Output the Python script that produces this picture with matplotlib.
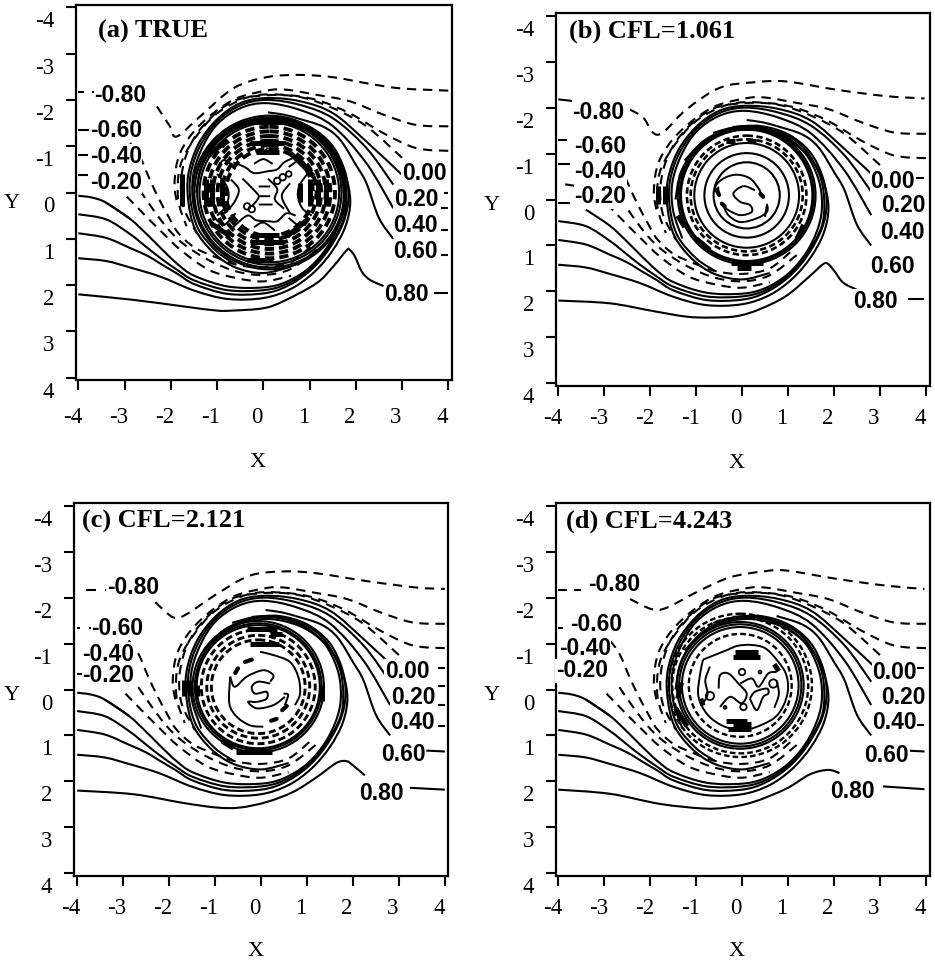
import matplotlib
matplotlib.use("Agg")
import matplotlib.pyplot as plt
from matplotlib.patches import Circle, PathPatch
from matplotlib.path import Path
from matplotlib.transforms import ScaledTranslation

TICKS = [-4, -3, -2, -1, 0, 1, 2, 3, 4]
TICK_LABELS = ["-4", "-3", "-2", "-1", "0", "1", "2", "3", "4"]
TITLES = ["(a) TRUE", "(b) CFL=1.061", "(c) CFL=2.121", "(d) CFL=4.243"]
LEVELS = ["-0.80", "-0.60", "-0.40", "-0.20", "0.00", "0.20", "0.40", "0.60", "0.80"]

# streamlines that look the same in all four panels
S00 = [(-3.4, .22), (-2.88, .57), (-2.5, .92), (-2.22, 1.2), (-1.85, 1.55), (-1.49, 1.8), (-.77, 2.03), (0, 2.05),
       (.5, 1.93), (1, 1.62), (1.4, 1.15), (1.66, .6), (1.74, .1), (1.66, -.45), (1.38, -1.0), (.95, -1.33), (.45, -1.5),
       (0, -1.53), (-.5, -1.42), (-1, -1.1), (-1.33, -.6), (-1.45, 0)]
S00_EXT = [(-4, .07), (-3.7, .11), (-3.4, .22), (-2.88, .57)]
S02 = [(-4, .47), (-3.4, .58), (-2.88, .9), (-2.5, 1.2), (-2.22, 1.42), (-1.85, 1.68), (-1.49, 1.9), (-.77, 2.11),
       (0, 2.11), (.5, 1.98), (1, 1.66), (1.4, 1.2), (1.72, .62), (1.79, .1), (1.71, -.47), (1.42, -1.03), (1, -1.38),
       (.4, -1.56), (-.2, -1.54), (-.8, -1.3), (-1.25, -.85)]
S04 = [(-4, .88), (-3.4, .98), (-2.88, 1.2), (-2.5, 1.37), (-2.22, 1.54), (-1.85, 1.76), (-1.49, 1.98), (-.77, 2.19),
       (0, 2.18), (.5, 2.03), (1, 1.7), (1.4, 1.25), (1.73, .65), (1.84, .1), (1.76, -.47), (1.48, -1.03), (1, -1.42),
       (.4, -1.6), (-.2, -1.58)]
S06 = [(-4, 1.42), (-3.4, 1.48), (-2.88, 1.62), (-2.22, 1.82), (-1.49, 2.12), (-.77, 2.3), (0, 2.28), (.6, 2.08),
       (1.1, 1.72), (1.5, 1.25), (1.78, .72), (1.88, .17), (1.76, -.41), (1.47, -.92), (.96, -1.36), (.38, -1.56),
       (-.12, -1.58), (-.63, -1.45)]
ARM00 = [(3.0, -.38), (2.23, -1.1), (1.51, -1.71), (.8, -1.97), (.07, -2.04), (-.5, -1.93), (-1, -1.58), (-1.4, -1.05),
         (-1.62, -.4), (-1.62, .2), (-1.47, .8), (-1.08, 1.3), (-.6, 1.62), (0, 1.74), (.6, 1.6)]
ARM20 = [(2.81, -.17), (2.23, -.96), (1.51, -1.6), (.8, -1.89), (.07, -2.0), (-.5, -1.88), (-1, -1.53), (-1.37, -1.0),
         (-1.57, -.4), (-1.57, .2), (-1.4, .8), (-1, 1.28), (-.6, 1.55)]
ARM40 = [(2.81, .34), (2.23, -.63), (1.51, -1.43), (.8, -1.78), (.07, -1.93), (-.5, -1.82), (-1, -1.47), (-1.33, -.95),
         (-1.52, -.35), (-1.5, .25), (-1.3, .85)]
ARM60 = [(2.81, 1.0), (2.5, .55), (2.23, -.2), (2, -.6), (1.66, -1.14), (1.3, -1.42), (.75, -1.6)]
ARM60_EXT = [(.75, -1.6), (.45, -1.68), (.1, -1.73)]
DASH40_TOP = [(4, -.9), (3.3, -.96), (2.6, -1.28), (1.87, -1.71), (1.15, -2.0), (.43, -2.11), (-.29, -2.07),
              (-1, -1.71), (-1.5, -1.14), (-1.8, -.56), (-1.84, .16), (-1.66, .73)]
DASH60_TOP = [(4, -1.43), (3.3, -1.46), (2.6, -1.68), (1.87, -1.97), (1.15, -2.11), (.5, -2.22), (.07, -2.2),
              (-.65, -2.0), (-1.37, -1.46), (-1.8, -.85), (-1.92, -.2), (-1.85, .3)]
DASH20_TOP = [(3.0, -.75), (2.23, -1.43), (1.51, -1.82), (.8, -2.06), (.07, -2.1), (-.65, -1.97), (-1.22, -1.53),
              (-1.59, -1), (-1.77, -.35), (-1.73, .3), (-1.44, .88)]
DASH60_LEFT = [(-2.88, -1.07), (-2.67, -.78), (-2.45, -.27), (-2.25, .15), (-2.05, .52), (-1.85, .86), (-1.5, 1.18),
               (-1.07, 1.38), (-.57, 1.56), (0, 1.62), (.6, 1.5), (1.1, 1.1)]
DASH40_LEFT = [(-2.67, -.05), (-2.38, .37), (-2.05, .8), (-1.7, 1.13), (-1.2, 1.45), (-.6, 1.7), (0, 1.78), (.6, 1.65),
               (1.2, 1.2)]
DASH20_LEFT = [(-2.95, .09), (-2.6, .45), (-2.2, .85), (-1.79, 1.24), (-1.18, 1.67), (-.57, 1.85), (0, 1.92), (.6, 1.8)]
SOLID_SHARED = [S00, S02, S04, S06, ARM00, ARM20, ARM40, ARM60]
DASHED_SHARED = [DASH60_TOP, DASH40_TOP, DASH20_TOP, DASH60_LEFT, DASH40_LEFT, DASH20_LEFT]

# panel (a) to (d): the -0.80 and 0.80 lines differ
M80 = [
    [(-2.3, -1.86), (-2.02, -1.43), (-1.87, -1.21), (-1.37, -1.64), (-.65, -2.25), (.07, -2.49), (.8, -2.54),
     (1.51, -2.49), (2.23, -2.36), (2.96, -2.25), (4, -2.2)],
    [(-2.44, -1.96), (-2.15, -1.78), (-1.97, -1.49), (-1.83, -1.41), (-1.65, -1.52), (-1.21, -1.96), (-.49, -2.43),
     (.24, -2.55), (.96, -2.57), (2.05, -2.39), (3.14, -2.25), (3.97, -2.2)],
    [(-2.3, -1.9), (-1.91, -1.57), (-1.62, -1.64), (-.96, -2.08), (-.24, -2.48), (.49, -2.57), (1.21, -2.53),
     (2.3, -2.36), (3.38, -2.22), (4, -2.19)],
    [(-2.44, -1.97), (-1.97, -1.75), (-1.64, -1.78), (-.99, -2.12), (-.27, -2.44), (.46, -2.57), (.96, -2.59),
     (2.05, -2.41), (3.14, -2.26), (3.97, -2.19)],
]
P80 = [
    [(-4, 2.2), (-2.8, 2.32), (-1.73, 2.46), (-1.01, 2.55), (-.65, 2.55), (0, 2.5), (.43, 2.35), (1.15, 1.96),
     (1.51, 1.6), (1.8, 1.25), (1.87, 1.24), (1.98, 1.38), (2.13, 1.71), (2.31, 1.89), (2.6, 2.02)],
    [(-4, 2.2), (-2.88, 2.26), (-1.93, 2.43), (-1.21, 2.55), (-.7, 2.57), (-.12, 2.54), (.38, 2.39), (.96, 2.1),
     (1.47, 1.67), (1.76, 1.41), (1.87, 1.4), (2.01, 1.56), (2.2, 1.81), (2.49, 1.96)],
    [(-4, 2.2), (-2.78, 2.28), (-1.69, 2.47), (-.96, 2.57), (-.46, 2.57), (.12, 2.45), (.7, 2.23), (1.21, 1.91),
     (1.64, 1.6), (1.86, 1.56), (2.0, 1.65), (2.26, 1.87)],
    [(-4, 2.18), (-2.88, 2.27), (-1.79, 2.49), (-.85, 2.59), (-.34, 2.57), (.24, 2.45), (.96, 2.16), (1.47, 1.85),
     (1.87, 1.75), (2.12, 1.82)],
]

# short pieces left over beside the labels: x0, x1, y0, y1
STUBS = [
    [(-4, -3.88, -2.18, -2.18), (-3.7, -3.55, -2.17, -2.17), (-4, -3.75, -1.35, -1.35), (-4, -3.8, -.8, -.8),
     (-4, -3.8, -.38, -.38), (3.68, 4, 2.17, 2.17), (3.85, 4, 1.35, 1.35), (3.85, 4, .8, .8),
     (3.85, 4, .33, .33), (3.9, 4, 0, 0)],
    [(-4, -3.65, -2.18, -2.14), (-4, -3.8, -1.3, -1.3), (-4, -3.75, -.78, -.78), (-3.85, -3.65, -.33, -.3),
     (-4, -3.75, .07, .07), (3.61, 3.97, 2.17, 2.17), (3.78, 3.97, -.47, -.47)],
    [(-3.8, -3.6, -2.17, -2.17), (-3.4, -3.3, -2.17, -2.17), (-4, -3.95, -1.33, -1.33), (-3.75, -3.65, -1.33, -1.33),
     (-3.85, -3.65, -.8, -.76), (-4, -3.7, -.33, -.33), (3.24, 4, 2.14, 2.18),
     (3.6, 4, 1.33, 1.35), (3.85, 4, .8, .8), (3.85, 4, .33, .33), (3.85, 4, -.47, -.47), (3.85, 4, -.07, -.07)],
    [(-4, -3.8, -2.17, -2.17), (-3.65, -3.5, -2.17, -2.17), (-4, -3.9, -1.33, -1.33), (-4, -3.7, -.87, -.87),
     (-4, -3.88, -.45, -.45), (3.07, 3.97, 2.11, 2.17), (3.6, 3.97, 1.33, 1.35),
     (3.8, 3.97, .78, .78), (3.75, 3.97, -.47, -.47)],
]

LABEL_X = [
    [-3.09, -3.19, -3.19, -3.19, 3.48, 3.3, 3.3, 3.3, 3.1],
    [-3.13, -3.08, -3.09, -3.09, 3.28, 3.5, 3.5, 3.28, 2.91],
    [-2.79, -3.12, -3.32, -3.33, 3.18, 3.31, 3.3, 3.09, 2.62],
    [-2.79, -3.18, -3.42, -3.49, 3.32, 3.5, 3.32, 3.15, 2.41],
]
LABEL_Y = [
    [-2.09, -1.34, -.78, -.22, -.4, .16, .72, 1.27, 2.21],
    [-1.9, -1.16, -.6, -.06, -.4, .14, .71, 1.46, 2.21],
    [-2.21, -1.33, -.77, -.3, -.4, .17, .71, 1.42, 2.27],
    [-2.28, -1.41, -.9, -.41, -.36, .17, .71, 1.43, 2.21],
]

CENTERS = [(.13, 0), (.1, -.09), (-.06, -.06), (-.04, -.09)]
SOLID_RADII = [
    [1.66, 1.62, 1.56, 1.51],
    [1.5, 1.46, 1.43, 1.14, .92, .72],
    [1.43, 1.38, 1.34],
    [1.38, 1.33, 1.27],
]
DASHED_RADII = [
    [1.42, 1.32, 1.22, 1.12, 1.02, .94],
    [1.3, 1.22],
    [1.24, 1.12, 1.02],
    [1.56, 1.48, 1.12],
]
DASHED_LW = [2.8, 1.9, 2.1, 1.7]

# inner wobbles, hand read
INNER = [
    [[(-.65, -.65), (-.4, -.55), (-.2, -.42), (.1, -.46), (.3, -.5), (.45, -.65), (.65, -.75)],
     [(-.65, .75), (-.35, .5), (-.15, .6), (.1, .62), (.3, .62), (.5, .45), (.7, .5)],
     [(-.7, -.28), (-.53, -.06), (-.64, .23), (-.85, .45)],
     [(.58, -.2), (.4, .08), (.58, .45)],
     [(-.1, -.13), (.05, -.13), (.15, -.13)],
     [(-.1, .08), (.05, .08), (.15, .08)],
     [(-.1, .26), (.05, .26), (.2, .26)],
     [(-.2, -.62), (0, -.72), (.2, -.62)],
     [(-.2, .75), (0, .65), (.25, .82)],
     [(-1, -.4), (-.8, -.15), (-.75, .1), (-.85, .35), (-1, .5)],
     [(.95, -.4), (.78, -.15), (.75, .1), (.85, .35), (1.05, .5)],
     [(-.45, -.3), (-.2, -.05), (-.1, .1), (-.25, .3)],
     [(.1, -.3), (.3, -.08), (.25, .15), (.45, .35)],
     [(-.6, -.5), (-.85, -.7), (-1, -.5)],
     [(.55, -.55), (.8, -.7), (.95, -.55)],
     [(-.6, .45), (-.85, .7), (-1.05, .55)],
     [(.55, .55), (.8, .72), (1, .55)]],
    [[(.28, -.2), (.03, -.29), (-.19, -.13), (-.04, .05), (.17, .12), (.21, .27), (-.04, .34), (-.3, .23), (-.41, .12)],
     [(-.51, -.09), (-.58, -.28), (-.4, -.46), (-.12, -.54), (.17, -.46), (.36, -.24), (.43, -.09)],
     [(-.51, -.09), (-.52, -.28)],
     [(-.41, .12), (-.3, .34), (-.04, .49), (.32, .41), (.54, .27), (.54, .12), (.5, .38)]],
    [[(-.02, -.82), (.27, -.75), (.63, -.6), (.81, -.28), (.85, .09), (.74, .34)],
     [(-.67, -.28), (-.57, -.06), (-.31, -.28), (.05, -.42), (.27, -.31), (.2, -.17)],
     [(-.67, -.28), (-.69, .3), (-.53, .59), (-.24, .78), (.05, .81)],
     [(.2, -.13), (-.06, -.17), (-.2, -.06), (-.13, .09), (.12, .05), (.12, .2), (-.09, .27), (-.28, .27), (-.09, .41),
      (.27, .34), (.52, .16)],
     [(.49, .09), (.59, .12), (.52, .34)]],
    [[(-.48, .38), (-.26, .16), (-.01, .3), (.1, .09), (-.08, -.13), (-.3, -.35), (-.48, -.31), (-.51, -.02)],
     [(-.04, -.13), (.21, -.24), (.36, -.06), (.57, -.35), (.75, -.38)],
     [(.17, .2), (.32, .45), (.46, .16), (.57, .09), (.54, -.02), (.28, .05), (.17, .2)],
     [(-.85, -.65), (-.6, -.75), (-.35, -.85), (-.1, -.95), (.2, -.97), (.5, -.9), (.75, -.65), (.95, -.35), (1, 0),
      (.9, .35), (.7, .62), (.3, .82), (0, .88), (-.4, .8), (-.75, .55), (-.95, .15), (-.92, -.3), (-.85, -.65)],
     [(-.7, -.5), (-.8, -.2), (-.75, .1), (-.85, .3)],
     [(.75, -.2), (.8, .1), (.7, .4)]],
]
# little closed loops: x, y, r
LOOPS = [
    [(-.35, .3, .07), (-.25, .36, .07), (.3, -.25, .07), (.42, -.33, .07), (.1, -.9, .05), (.55, -.4, .06)],
    [],
    [],
    [(0, -.38, .07), (-.7, .14, .09), (.03, .38, .07), (.68, -.13, .09), (.39, -.38, .03), (-.37, .39, .03)],
]
# small thick dots: x0, y0, x1, y1
DOTS = [
    [],
    [(.4, -.12, .46, -.06), (-.44, .09, -.38, .15), (-.55, -.2, -.5, -.1)],
    [(-.35, -.6, -.2, -.65), (-.56, -.36, -.5, -.46), (.46, .45, .56, .36), (.22, .68, .34, .64)],
    [],
]
# heavy black clumps: x0, y0, x1, y1
CLUMPS = [
    [(-.28, -1.06, .44, -1.06), (-.16, -.88, .34, -.88), (-.28, 1.06, .44, 1.06), (-.36, 1.45, .22, 1.45),
     (-.25, .92, .35, .92), (1.0, -.3, 1.0, .3), (1.18, -.3, 1.18, .3), (1.36, -.3, 1.36, .3), (.8, -.2, .8, .2),
     (-1.12, -.3, -1.12, .3), (-.9, -.3, -.9, .3), (-1.23, -.3, -1.23, .3), (.59, -.85, 1.09, -.35),
     (-1.2, -.78, -.78, -1.14), (-1.14, .66, -.71, .95), (.51, .95, .95, .59), (-1.75, -.4, -1.75, .3),
     (-.15, -1.52, .5, -1.52)],
    [(-.1, -1.56, .5, -1.56), (-.25, 1.38, .45, 1.38), (-.1, 1.5, .2, 1.5), (-1.0, .85, -.7, 1.1), (-1.82, -.3, -1.82, .1),
     (-1.68, -.3, -1.68, .1), (1.34, .55, 1.2, .85), (-1.4, .35, -1.25, .6), (.1, -1.28, .3, -1.28), (-.35, -1.28, -.15, -1.28)],
    [(-.55, 1.35, .25, 1.35), (-.25, -.98, .4, -.98), (-.3, -1.32, .35, -1.32), (-1.4, -.1, -1.4, .15),
     (1.33, -.1, 1.33, .25), (-.85, 1.12, -.6, 1.28), (.2, -1.2, .45, -1.2), (-1.68, -.2, -1.68, .15), (-1.54, -.2, -1.54, .15)],
    [(-.2, -.7, .4, -.7), (-.15, -.82, .35, -.82), (-.2, .75, .2, .75), (-.3, .85, .2, .85), (-.35, .68, .1, .68),
     (-.9, .2, -.85, .35), (.7, -.55, .8, -.4), (-1.45, .4, -1.2, .8), (-1.32, -.15, -1.4, .2)],
]

# axes box in pixels: left, right, top, bottom
BOXES = [(76, 452, 5, 380), (556, 930, 13, 386), (74, 448, 503, 876), (556, 930, 503, 876)]
XLIMS = [(-4.05, 4.08), (-4.05, 4.09), (-4.07, 4.07), (-4.05, 4.09)]
YLIMS = [(4.05, -4.05), (4.06, -4.06), (4.06, -4.06), (4.06, -4.06)]
TITLE_XY = [(98, 31), (569, 31), (82, 521), (566, 521)]
XLABEL_XY = [(258, 463), (737, 463), (256, 952), (737, 952)]
YLABEL_XY = [(12, 204), (492, 205), (12, 695), (492, 695)]
PADS = [12, 8, 8, 8]

W, H = 935, 964
SERIF = "Liberation Serif"
DASH = (0, (4.5, 3.2))


def smooth_path(points):
    # catmull-rom through the read points, handed to matplotlib as bezier segments
    verts = [points[0]]
    codes = [Path.MOVETO]
    for i in range(len(points) - 1):
        p0 = points[max(i - 1, 0)]
        p1 = points[i]
        p2 = points[i + 1]
        p3 = points[min(i + 2, len(points) - 1)]
        verts.append((p1[0] + (p2[0] - p0[0]) / 6, p1[1] + (p2[1] - p0[1]) / 6))
        verts.append((p2[0] - (p3[0] - p1[0]) / 6, p2[1] - (p3[1] - p1[1]) / 6))
        verts.append(p2)
        codes += [Path.CURVE4, Path.CURVE4, Path.CURVE4]
    return Path(verts, codes)


def add_line(ax, points, ls="-", lw=1.5):
    ax.add_patch(PathPatch(smooth_path(points), fill=False, ec="k", lw=lw, ls=ls, capstyle="butt"))


fig = plt.figure(figsize=(W / 100, H / 100), dpi=100)
for n in range(4):
    left, right, top, bottom = BOXES[n]
    ax = fig.add_axes([left / W, 1 - bottom / H, (right - left) / W, (bottom - top) / H])
    ax.set_xlim(XLIMS[n])
    ax.set_ylim(YLIMS[n])

    for line in SOLID_SHARED:
        add_line(ax, line)
    if n != 1:
        add_line(ax, S00_EXT)
    if n < 3:
        add_line(ax, ARM60_EXT)
    for line in DASHED_SHARED:
        add_line(ax, line, ls=DASH)
    add_line(ax, M80[n], ls=DASH)
    add_line(ax, P80[n])

    cx, cy = CENTERS[n]
    for r in SOLID_RADII[n]:
        ax.add_patch(Circle((cx, cy), r, fill=False, ec="k", lw=1.5))
    for r in DASHED_RADII[n]:
        ax.add_patch(Circle((cx, cy), r, fill=False, ec="k", lw=DASHED_LW[n], ls=(0, (2.4, 1.3))))
    for line in INNER[n]:
        add_line(ax, line, lw=1.4)
    for x, y, r in LOOPS[n]:
        ax.add_patch(Circle((x, y), r, fill=False, ec="k", lw=1.3))
    for x0, y0, x1, y1 in DOTS[n]:
        ax.plot([x0, x1], [y0, y1], color="k", lw=3, solid_capstyle="round")
    for x0, y0, x1, y1 in CLUMPS[n]:
        ax.plot([x0, x1], [y0, y1], color="k", lw=3.6, solid_capstyle="butt")
    for x0, x1, y0, y1 in STUBS[n]:
        ax.plot([x0, x1], [y0, y1], color="k", lw=1.5, solid_capstyle="butt")

    for text, x, y in zip(LEVELS, LABEL_X[n], LABEL_Y[n]):
        ax.text(x, y, text, ha="center", va="center", fontsize=16.5, fontweight="bold", family="Liberation Sans",
                bbox=dict(fc="w", ec="none", pad=0.3), zorder=5)

    ax.text((TITLE_XY[n][0] - left) / (right - left), (bottom - TITLE_XY[n][1]) / (bottom - top), TITLES[n],
            transform=ax.transAxes, fontsize=19, fontweight="bold", family=SERIF, va="center", zorder=6)

    ax.set_xticks(TICKS)
    ax.set_yticks(TICKS)
    ax.set_xticklabels(TICK_LABELS, fontsize=16.5, family=SERIF)
    ax.set_yticklabels(TICK_LABELS, fontsize=16.5, family=SERIF)
    ax.tick_params(length=7.5, width=1.5, pad=PADS[n], direction="out")
    ax.tick_params(axis="y", pad=8)
    for lab in ax.get_xticklabels():
        lab.set_transform(lab.get_transform() + ScaledTranslation(-.06, 0, fig.dpi_scale_trans))
    for lab in ax.get_yticklabels():
        lab.set_transform(lab.get_transform() + ScaledTranslation(0, -.12, fig.dpi_scale_trans))
    for sp in ax.spines.values():
        sp.set_linewidth(1.6)

    ax.set_xlabel("X", fontsize=16, family=SERIF, va="center")
    ax.xaxis.set_label_coords((XLABEL_XY[n][0] - left) / (right - left), (bottom - XLABEL_XY[n][1]) / (bottom - top))
    ax.set_ylabel("Y", fontsize=16, family=SERIF, rotation=0, ha="center", va="center")
    ax.yaxis.set_label_coords((YLABEL_XY[n][0] - left) / (right - left), (bottom - YLABEL_XY[n][1]) / (bottom - top))

fig.savefig("out.png", dpi=100)
